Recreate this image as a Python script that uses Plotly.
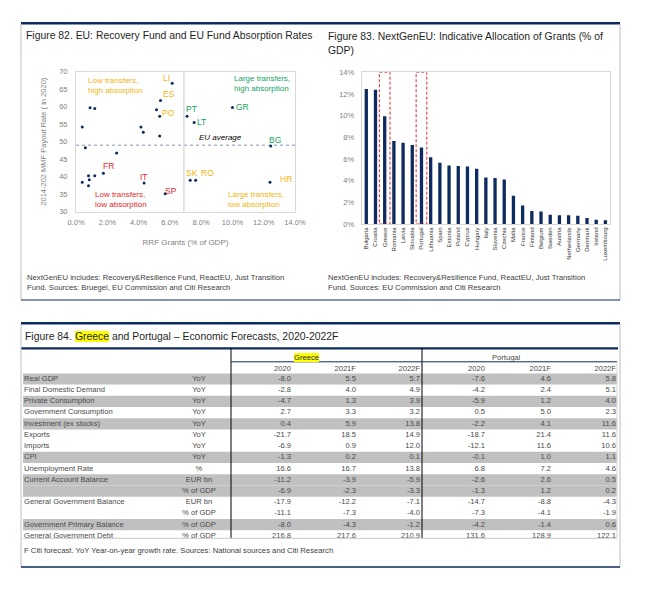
import plotly.graph_objects as go

W, H = 654, 601


def X(px):
    return px / W


def Y(py):
    return 1 - py / H


NAVY = "#0D2B5E"
ORANGE = "#F6B40E"
GREEN = "#13A55F"
RED = "#E3262B"
GRAY_TXT = "#7F7F7F"
FRAME = "#D9D9D9"
TXT = "#1F1F1F"
FONT = "Liberation Sans, Arial, sans-serif"

# ---------------- Figure 82 data ----------------
sc_x = [0.4, 0.9, 1.2, 0.6, 2.6, 1.75, 1.2, 0.8, 0.85, 0.4, 0.8, 4.35, 5.7, 4.15,
        4.3, 5.35, 5.15, 5.35, 5.4, 6.15, 7.1, 7.55, 10.0, 12.45, 7.3, 7.65, 12.4]
sc_y = [54.2, 59.7, 59.5, 48.3, 46.8, 41.0, 40.3, 40.3, 39.1, 38.4, 37.4, 38.2, 35.1, 54.2,
        52.7, 51.6, 59.1, 57.3, 61.8, 66.7, 57.3, 55.5, 59.8, 48.8, 39.0, 39.0, 38.4]
sc_code = ["", "", "", "", "", "FR", "", "", "", "", "", "IT", "SP", "",
           "", "", "", "PO", "ES", "LI", "PT", "LT", "GR", "BG", "SK", "RO", "HR"]
eu_avg_payout = 49.0
eu_avg_grants = 6.9
sc_x_ticks = [0, 2, 4, 6, 8, 10, 12, 14]
sc_y_ticks = [30, 35, 40, 45, 50, 55, 60, 65, 70]

# ---------------- Figure 83 data ----------------
countries = ["Bulgaria", "Croatia", "Greece", "Romania", "Latvia", "Slovakia", "Portugal",
             "Lithuania", "Spain", "Estonia", "Poland", "Cyprus", "Hungary", "Italy",
             "Slovenia", "Czechia", "Malta", "France", "Finland", "Belgium", "Sweden",
             "Austria", "Netherlands", "Germany", "Denmark", "Ireland", "Luxembourg"]
grants = [12.45, 12.4, 9.95, 7.65, 7.5, 7.3, 7.05, 6.15, 5.65, 5.4, 5.35, 5.3, 5.1, 4.3,
          4.25, 4.1, 2.6, 1.7, 1.2, 1.15, 0.85, 0.8, 0.8, 0.75, 0.55, 0.4, 0.35]
highlighted = ["Greece", "Portugal"]
bar_y_ticks = [0, 2, 4, 6, 8, 10, 12, 14]

# ---------------- Figure 84 data ----------------
row_labels = ["Real GDP", "Final Domestic Demand", "Private Consumption", "Government Consumption",
              "Investment (ex stocks)", "Exports", "Imports", "CPI", "Unemployment Rate",
              "Current Account Balance", "", "General Government Balance", "",
              "Government Primary Balance", "General Government Debt"]
row_units = ["YoY", "YoY", "YoY", "YoY", "YoY", "YoY", "YoY", "YoY", "%", "EUR bn", "% of GDP",
             "EUR bn", "% of GDP", "% of GDP", "% of GDP"]
year_headers = ["2020", "2021F", "2022F"]
greece_2020 = [-8.0, -2.8, -4.7, 2.7, 0.4, -21.7, -6.9, -1.3, 16.6, -11.2, -6.9, -17.9, -11.1, -8.0, 216.8]
greece_2021 = [5.5, 4.0, 1.3, 3.3, 5.9, 18.5, 0.9, 0.2, 16.7, -3.9, -2.3, -12.2, -7.3, -4.3, 217.6]
greece_2022 = [5.7, 4.9, 3.9, 3.2, 13.8, 14.9, 12.0, 0.1, 13.8, -5.9, -3.3, -7.1, -4.0, -1.2, 210.9]
portugal_2020 = [-7.6, -4.2, -5.9, 0.5, -2.2, -18.7, -12.1, -0.1, 6.8, -2.6, -1.3, -14.7, -7.3, -4.2, 131.6]
portugal_2021 = [4.6, 2.4, 1.2, 5.0, 4.1, 21.4, 11.6, 1.0, 7.2, 2.6, 1.2, -8.8, -4.1, -1.4, 128.9]
portugal_2022 = [5.8, 5.1, 4.0, 2.3, 11.6, 11.6, 10.6, 1.1, 4.6, 0.5, 0.2, -4.3, -1.9, 0.6, 122.1]

# ---------------- styles ----------------
label_style = {  # code: (colour, xshift, yshift)
    "LI": (ORANGE, -6, 5), "ES": (ORANGE, 9, 6), "PO": (ORANGE, 9, 3),
    "FR": (RED, 5, 7), "IT": (RED, 0, 6), "SP": (RED, 6, 3),
    "PT": (GREEN, 4, 7), "LT": (GREEN, 7, 0), "GR": (GREEN, 10, 0), "BG": (GREEN, 4, 6),
    "SK": (ORANGE, 2, 7), "RO": (ORANGE, 12, 7), "HR": (ORANGE, 16, 3),
}
shaded_rows = [0, 2, 4, 7, 9, 10, 13]
col_right_px = [291, 356, 420, 485, 551, 616]   # right edges of numeric columns (px)
LABEL_PX, UNIT_PX = 24, 199
TITLE_SIZE = 10.4

fig = go.Figure()

# Figure 82 scatter
fig.add_trace(go.Scatter(x=sc_x, y=sc_y, mode="markers", xaxis="x", yaxis="y",
                         marker=dict(size=3, color=NAVY), hoverinfo="skip", showlegend=False))

# Figure 83 bars
fig.add_trace(go.Bar(x=countries, y=grants, xaxis="x2", yaxis="y2", width=0.36,
                     marker=dict(color=NAVY, line=dict(width=0)), hoverinfo="skip", showlegend=False))

# Figure 84 table text (rows on y3 index, columns on px-scale x3)
n = len(row_labels)
rows = list(range(n))
tfont = dict(family=FONT, size=7.6, color="#4A4A4A")
fig.add_trace(go.Scatter(x=[LABEL_PX] * n, y=rows, text=row_labels, mode="text",
                         textposition="middle right", textfont=tfont, xaxis="x3", yaxis="y3",
                         hoverinfo="skip", showlegend=False))
fig.add_trace(go.Scatter(x=[UNIT_PX] * n, y=rows, text=row_units, mode="text",
                         textposition="middle center", textfont=tfont, xaxis="x3", yaxis="y3",
                         hoverinfo="skip", showlegend=False))
cols = [greece_2020, greece_2021, greece_2022, portugal_2020, portugal_2021, portugal_2022]
for cx, vals in zip(col_right_px, cols):
    fig.add_trace(go.Scatter(x=[cx] * n, y=rows, text=[f"{v:.1f}" for v in vals], mode="text",
                             textposition="middle left", textfont=tfont, xaxis="x3", yaxis="y3",
                             hoverinfo="skip", showlegend=False))
HEADER_ROW = -0.88
fig.add_trace(go.Scatter(x=col_right_px, y=[HEADER_ROW] * 6, text=year_headers * 2, mode="text",
                         textposition="middle left", textfont=tfont, xaxis="x3", yaxis="y3",
                         hoverinfo="skip", showlegend=False))

shapes = []
annotations = []


def pline(x0, y0, x1, y1, color, width, dash="solid"):
    shapes.append(dict(type="line", xref="paper", yref="paper", x0=X(x0), y0=Y(y0), x1=X(x1), y1=Y(y1),
                       line=dict(color=color, width=width, dash=dash), layer="above"))


def ptext(px, py, text, size, color=TXT, xanchor="left", bg=None, yanchor="middle"):
    a = dict(xref="paper", yref="paper", x=X(px), y=Y(py), text=text, showarrow=False,
             xanchor=xanchor, yanchor=yanchor, align="left", borderpad=0, borderwidth=0,
             font=dict(family=FONT, size=size, color=color))
    if bg:
        a["bgcolor"] = bg
    annotations.append(a)


# ---- panel frames ----
pline(21, 23.3, 620, 23.3, NAVY, 2.6)
pline(21, 24, 21, 300, "#BFBFBF", 1)
pline(620, 24, 620, 300, "#BFBFBF", 1)
pline(21, 300, 620, 300, NAVY, 1.2)

pline(21, 323.3, 620, 323.3, NAVY, 2.6)
pline(21, 348.3, 618, 348.3, NAVY, 2.2)
pline(21, 324, 21, 567, "#BFBFBF", 1)
pline(620, 324, 620, 567, "#BFBFBF", 1)
pline(21, 567, 620, 567, NAVY, 1.5)

# ---- titles ----
ptext(26, 35.5, "Figure 82. EU: Recovery Fund and EU Fund Absorption Rates", TITLE_SIZE)
ptext(328, 43, "Figure 83. NextGenEU: Indicative Allocation of Grants (% of<br>GDP)", TITLE_SIZE)
ptext(25, 336.5, "Figure 84.", TITLE_SIZE)
ptext(74.8, 336.5, "Greece", TITLE_SIZE, bg="#FFFF00")
ptext(111.5, 336.5, "and Portugal \u2013 Economic Forecasts, 2020-2022F", TITLE_SIZE)

# ---- notes ----
ptext(27, 282.5, "NextGenEU includes: Recovery&amp;Resilience Fund, ReactEU, Just Transition<br>"
                 "Fund. Sources: Bruegel, EU Commission and Citi Research", 7.7, color="#404040")
ptext(328, 282.5, "NextGenEU includes: Recovery&amp;Resilience Fund, ReactEU, Just Transition<br>"
                  "Fund. Sources: EU Commission and Citi Research", 7.7, color="#404040")
ptext(24, 550, "F Citi forecast. YoY Year-on-year growth rate. Sources: National sources and Citi Research",
      7.7, color="#404040")

# ---- Figure 82 decorations ----
shapes.append(dict(type="line", xref="x", yref="y", x0=0, x1=14, y0=eu_avg_payout, y1=eu_avg_payout,
                   line=dict(color="#7F96B8", width=1, dash="dot"), layer="below"))
shapes.append(dict(type="line", xref="x", yref="y", x0=eu_avg_grants, x1=eu_avg_grants, y0=30, y1=70,
                   line=dict(color="#C8C8C8", width=1), layer="below"))
annotations.append(dict(xref="x", yref="y", x=7.75, y=eu_avg_payout, yshift=8, text="<i>EU average</i>",
                        showarrow=False, xanchor="left", font=dict(family=FONT, size=8, color="#000000")))
for code, xv, yv in zip(sc_code, sc_x, sc_y):
    if not code:
        continue
    col, dx, dy = label_style[code]
    annotations.append(dict(xref="x", yref="y", x=xv, y=yv, xshift=dx, yshift=dy, text=code,
                            showarrow=False, font=dict(family=FONT, size=8.5, color=col)))
quad = [(0.64, 66.2, "Low transfers,<br>high absorption", ORANGE),
        (9.95, 66.5, "Large transfers,<br>high absorption", GREEN),
        (1.09, 33.5, "Low transfers,<br>low absorption", RED),
        (9.6, 33.6, "Large transfers,<br>low absorption", ORANGE)]
for qx, qy, qt, qc in quad:
    annotations.append(dict(xref="x", yref="y", x=qx, y=qy, text=qt, showarrow=False, xanchor="left",
                            align="left", font=dict(family=FONT, size=8, color=qc)))

# ---- Figure 83 highlight boxes ----
for name in highlighted:
    i = countries.index(name)
    shapes.append(dict(type="rect", xref="x2", yref="y2", x0=i - 0.58, x1=i + 0.58, y0=0, y1=14,
                       line=dict(color="#E0262B", width=1, dash="3px,2px"), layer="above"))

# ---- Figure 84 table decorations ----
for r in shaded_rows:
    shapes.append(dict(type="rect", xref="x3", yref="y3", x0=23, x1=617, y0=r - 0.5, y1=r + 0.5,
                       fillcolor="#C0C0C0", line=dict(width=0), layer="below"))
pline(231, 348.3, 231, 538.3, "#000000", 1)
pline(422, 348.3, 422, 538.3, "#000000", 1)
pline(231, 361.8, 617, 361.8, NAVY, 1)
pline(23, 538.3, 617, 538.3, "#C8C8C8", 1)
pline(617, 362, 617, 538.3, "#D8D8D8", 1)
annotations.append(dict(xref="x3", yref="y3", x=306.5, y=-1.94, text="Greece", showarrow=False,
                        bgcolor="#FFFF00", borderpad=0, borderwidth=0,
                        font=dict(family=FONT, size=7.6, color="#262626")))
annotations.append(dict(xref="x3", yref="y3", x=506.5, y=-1.94, text="Portugal", showarrow=False,
                        borderpad=0, borderwidth=0,
                        font=dict(family=FONT, size=7.6, color="#4A4A4A")))

tick_font = dict(family=FONT, size=7.5, color=GRAY_TXT)
fig.update_layout(
    width=W, height=H, margin=dict(l=0, r=0, t=0, b=0, autoexpand=False),
    paper_bgcolor="white", plot_bgcolor="rgba(0,0,0,0)",
    showlegend=False, bargap=0.6,
    xaxis=dict(domain=[X(76), X(295)], range=[0, 14], tickvals=sc_x_ticks,
               ticktext=[f"{v:.1f}%" for v in sc_x_ticks], tickfont=tick_font, automargin=False,
               showgrid=False, zeroline=False, showline=True, linecolor=FRAME, mirror=True,
               ticks="", anchor="y", fixedrange=True, ticklabelstandoff=3,
               title=dict(text="RRF Grants (% of GDP)", standoff=13,
                          font=dict(family=FONT, size=8, color=GRAY_TXT))),
    yaxis=dict(domain=[Y(211.7), Y(71.7)], range=[30, 70], tickvals=sc_y_ticks, tickfont=tick_font,
               showgrid=False, zeroline=False, showline=True, linecolor=FRAME, mirror=True,
               ticks="", anchor="x", fixedrange=True, automargin=False, ticklabelstandoff=6,
               title=dict(text="2014-202 MMF Payout Rate ( in 2020)", standoff=11,
                          font=dict(family=FONT, size=7.5, color=GRAY_TXT))),
    xaxis2=dict(domain=[X(361.7), X(610)], range=[-0.5, len(countries) - 0.5], type="category",
                tickangle=-90, tickfont=dict(family=FONT, size=6, color="#333333"), automargin=False,
                showgrid=False, zeroline=False, showline=True, linecolor=FRAME, mirror=True,
                ticks="", anchor="y2", fixedrange=True),
    yaxis2=dict(domain=[Y(224), Y(72.3)], range=[0, 14], tickvals=bar_y_ticks,
                ticktext=[f"{v}%" for v in bar_y_ticks], automargin=False, ticklabelstandoff=5,
                tickfont=tick_font, showgrid=False, zeroline=False, showline=True,
                linecolor=FRAME, mirror=True, ticks="", anchor="x2", fixedrange=True),
    xaxis3=dict(domain=[0, 1], range=[0, W], visible=False, anchor="y3", fixedrange=True,
                automargin=False),
    yaxis3=dict(domain=[Y(538.3), Y(348.3)], range=[14.22, -2.74], visible=False, anchor="x3",
                fixedrange=True, automargin=False),
    shapes=shapes, annotations=annotations,
)

fig.write_html("out.html", config={"displayModeBar": False},
               post_script="document.body.style.margin='0px';")
